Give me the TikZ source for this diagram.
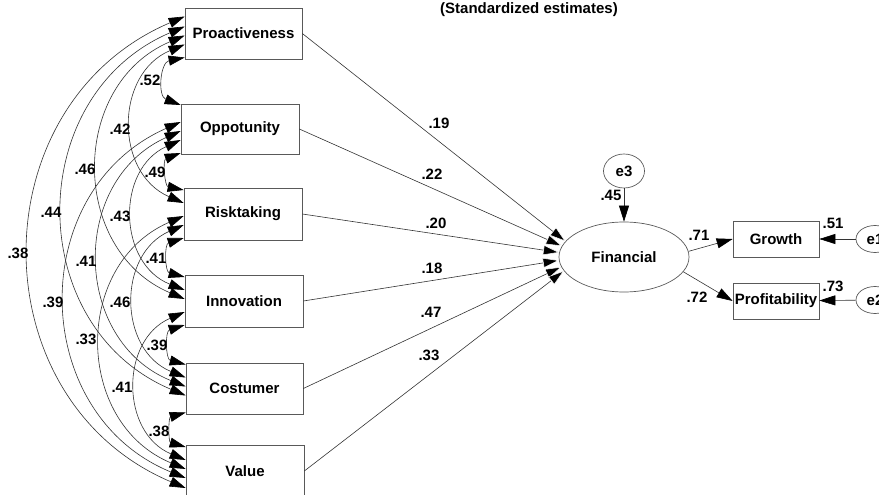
\documentclass[tikz,border=0pt]{standalone}
\usepackage{fontspec}
\setmainfont{Liberation Sans}
\usetikzlibrary{arrows.meta,shapes.geometric}
\begin{document}
\begin{tikzpicture}[x=1pt,y=-1pt,
  font=\fontsize{15}{18}\selectfont\bfseries,
  >={Triangle[length=16pt,width=10pt,color=black]},
  var/.style={draw=black!65, line width=0.7pt, rectangle, minimum height=51pt, minimum width=118pt, inner sep=0pt},
  lat/.style={draw=black!65, line width=0.7pt, ellipse, inner sep=0pt},
  cov/.style={<->, draw=black!80, line width=0.6pt},
  reg/.style={->, draw=black!80, line width=0.6pt},
  regf/.style={-{Triangle[length=16pt,width=10pt,color=white,fill=black,line width=0.5pt]}, draw=black!80, line width=0.6pt},
  lab/.style={inner sep=0pt}]
\useasboundingbox (0,0) rectangle (879,495);

% title
\node (title) at (529,10) {(Standardized estimates)};

% exogenous observed variables
\node[var, minimum width=117pt] (P) at (243.5,33.5) {Proactiveness};
\node[var, minimum height=50pt] (O) at (240,129) {Oppotunity};
\node[var, minimum height=52pt] (R) at (243,214) {Risktaking};
\node[var, minimum height=52pt] (I) at (244,301) {Innovation};
\node[var, minimum width=117pt] (C) at (244.5,388.5) {Costumer};
\node[var] (V) at (245,471) {Value};

% latent and outcomes
\node[lat, minimum width=130pt, minimum height=70pt] (F) at (624,257) {Financial};
\node[lat, minimum width=41pt, minimum height=34pt] (e3) at (624,171) {e3};
\node[var, minimum width=86pt, minimum height=36pt] (G) at (776,239) {Growth};
\node[var, minimum width=86pt, minimum height=36pt] (Pr) at (776,301) {Profitability};
\node[lat, minimum width=38pt, minimum height=27pt] (e1) at (875,239) {e1};
\node[lat, minimum width=38pt, minimum height=27pt] (e2) at (875,300) {e2};

% regression paths
\draw[regf] (P.east) -- (F.165.8);
\draw[regf] (O.east) -- (F.170.9);
\draw[regf] (R.east) -- (F.176.7);
\draw[regf] (I.east) -- (F.183.4);
\draw[regf] (C.east) -- (F.189.4);
\draw[regf] (V.east) -- (F.193.9);
\draw[reg] (e3) -- (F);
\draw[reg] (F.5) -- (G.west);
\draw[reg] (F.-14) -- (Pr.west);
\draw[reg] (e1) -- (G);
\draw[reg] (e2) -- (Pr);

% covariances (k = 1)
\draw[cov] ([yshift=-24pt]P.west) to[bend right=74, looseness=1.34] ([yshift=24pt]O.west);
\draw[cov] ([yshift=-24pt]O.west) to[bend right=74, looseness=1.34] ([yshift=24pt]R.west);
\draw[cov] ([yshift=-24pt]R.west) to[bend right=74, looseness=1.34] ([yshift=24pt]I.west);
\draw[cov] ([yshift=-24pt]I.west) to[bend right=74, looseness=1.34] ([yshift=24pt]C.west);
\draw[cov] ([yshift=-24pt]C.west) to[bend right=74, looseness=1.34] ([yshift=24pt]V.west);
% k = 2
\draw[cov] ([yshift=-11pt]P.west) to[bend right=67, looseness=1.22] ([yshift=11pt]R.west);
\draw[cov] ([yshift=-11pt]O.west) to[bend right=67, looseness=1.22] ([yshift=11pt]I.west);
\draw[cov] ([yshift=-11pt]R.west) to[bend right=67, looseness=1.22] ([yshift=11pt]C.west);
\draw[cov] ([yshift=-11pt]I.west) to[bend right=67, looseness=1.22] ([yshift=11pt]V.west);
% k = 3
\draw[cov] ([yshift=-2pt]P.west) to[bend right=67, looseness=1.22] ([yshift=2pt]I.west);
\draw[cov] ([yshift=-2pt]O.west) to[bend right=67, looseness=1.22] ([yshift=2pt]C.west);
\draw[cov] ([yshift=-2pt]R.west) to[bend right=67, looseness=1.22] ([yshift=2pt]V.west);
% k = 4
\draw[cov] ([yshift=7pt]P.west) to[bend right=67, looseness=1.22] ([yshift=-7pt]C.west);
\draw[cov] ([yshift=7pt]O.west) to[bend right=67, looseness=1.22] ([yshift=-7pt]V.west);
% k = 5
\draw[cov] ([yshift=17pt]P.west) to[bend right=67, looseness=1.22] ([yshift=-17pt]V.west);

% covariance labels
\node[lab] (cPO) at (150,80) {.52};
\node[lab] (cPR) at (120,129) {.42};
\node[lab] (cPI) at (85,169) {.46};
\node[lab] (cPC) at (51,212) {.44};
\node[lab] (cPV) at (18,253) {.38};
\node[lab] (cOR) at (155,172) {.49};
\node[lab] (cOI) at (120,216) {.43};
\node[lab] (cOC) at (86,261) {.41};
\node[lab] (cOV) at (53,302) {.39};
\node[lab] (cRI) at (156,258) {.41};
\node[lab] (cRC) at (120,302) {.46};
\node[lab] (cRV) at (86,339) {.33};
\node[lab] (cIC) at (157,345) {.39};
\node[lab] (cIV) at (122,387) {.41};
\node[lab] (cCV) at (159,431) {.38};

% regression labels
\node[lab] (wP) at (439,123) {.19};
\node[lab] (wO) at (432,174) {.22};
\node[lab] (wR) at (436,223) {.20};
\node[lab] (wI) at (432,268) {.18};
\node[lab] (wC) at (431,312) {.47};
\node[lab] (wV) at (429,355) {.33};
\node[lab] (r3) at (611,195) {.45};
\node[lab] (wG) at (699,235) {.71};
\node[lab] (wPr) at (697,297) {.72};
\node[lab] (r1) at (833,223) {.51};
\node[lab] (r2) at (833,286) {.73};
\end{tikzpicture}
\end{document}
